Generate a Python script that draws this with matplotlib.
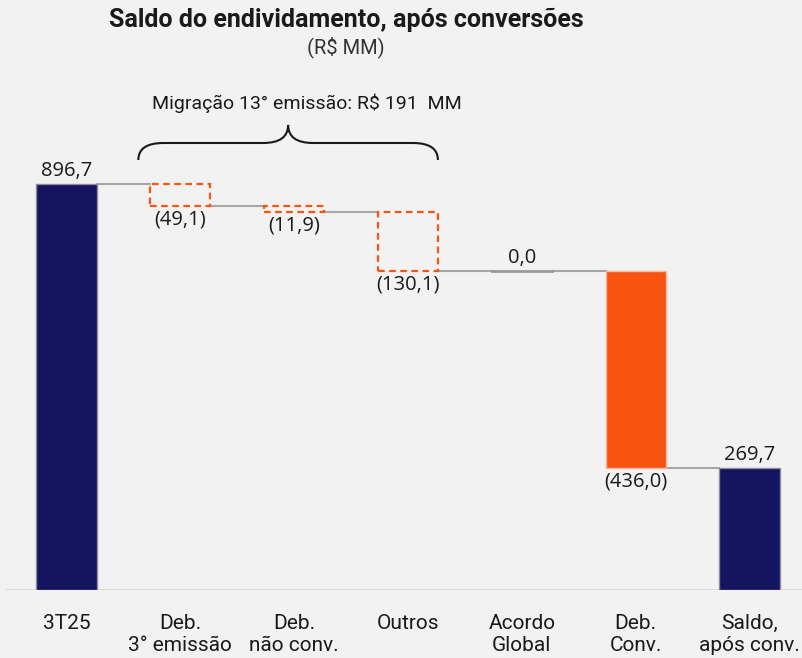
import matplotlib
matplotlib.use("Agg")
import matplotlib.pyplot as plt
from matplotlib.path import Path
from matplotlib.patches import PathPatch, Rectangle

categories = ["3T25", "Deb.\n3° emissão", "Deb.\nnão conv.", "Outros",
              "Acordo\nGlobal", "Deb.\nConv.", "Saldo,\napós conv."]
values = [896.7, -49.1, -11.9, -130.1, 0.0, -436.0, 269.7]
value_labels = ["896,7", "(49,1)", "(11,9)", "(130,1)", "0,0", "(436,0)", "269,7"]
kinds = ["total", "dashed", "dashed", "dashed", "flat", "solid", "total"]

NAVY = "#141460"
ORANGE = "#f95312"
BG = "#f2f2f2"
GRAY = "#a6a6a6"

fig = plt.figure(figsize=(8.02, 6.58), dpi=100, facecolor=BG)
ax = fig.add_axes([6/802, 1 - 590/658, 1 - 6/802, (590 - 60)/658])
ax.set_facecolor(BG)
ax.set_xlim(-0.53, 6.46)
ax.set_ylim(0, 1170.5)

W = 0.53
running = 0.0
tops = []
for i, (v, k) in enumerate(zip(values, kinds)):
    if k == "total":
        bottom, top = 0.0, v
        ax.bar(i, v, width=W, color=NAVY, edgecolor="#8c8c9c", linewidth=1, zorder=3)
        running = v
        end = v
    else:
        start = running
        end = running + v
        bottom, top = min(start, end), max(start, end)
        if k == "dashed":
            ax.add_patch(Rectangle((i - W/2, bottom), W, top - bottom, fill=False,
                                   edgecolor=ORANGE, linestyle=(0, (3, 2)),
                                   linewidth=1.6, zorder=3))
        elif k == "solid":
            ax.bar(i, top - bottom, bottom=bottom, width=W, color=ORANGE,
                   edgecolor="#f9b89c", linewidth=1, zorder=3)
        else:
            ax.plot([i - W/2, i + W/2], [end, end], color="#9a9a9a", lw=2, zorder=3)
        running = end
    tops.append((bottom, top, end))

# connectors
for i in range(len(values) - 1):
    level = tops[i][2]
    ax.plot([i + W/2, i + 1 - W/2], [level, level], color=GRAY, lw=1.5, zorder=2)

# value labels
fs = 14.5
for i, (lab, k) in enumerate(zip(value_labels, kinds)):
    bottom, top, end = tops[i]
    if k in ("total", "flat"):
        ax.text(i, top + 6, lab, ha="center", va="bottom", fontsize=fs,
                family="Open Sans", color="#1a1a1a")
    else:
        ax.text(i, bottom - 8, lab, ha="center", va="top", fontsize=fs,
                family="Open Sans", color="#1a1a1a")

# baseline
ax.axhline(0, color="#d9d9d9", lw=2, zorder=1)

ax.set_xticks(range(len(categories)))
ax.set_xticklabels(categories, fontsize=15, family="Roboto", color="#1a1a1a",
                   linespacing=1.25)
ax.tick_params(axis="x", length=0, pad=17)
ax.set_yticks([])
for s in ax.spines.values():
    s.set_visible(False)

# brace
x0, x1 = 0.632, 3.263
xm = (x0 + x1) / 2
yb, yh, yp = 949.6, 987.2, 1027.0
r = 0.22
verts = [(x0, yb), (x0, yh), (x0 + r, yh),
         (xm - r, yh), (xm, yh), (xm, yp),
         (xm, yh), (xm + r, yh),
         (x1 - r, yh), (x1, yh), (x1, yb)]
codes = [Path.MOVETO, Path.CURVE3, Path.CURVE3,
         Path.LINETO, Path.CURVE3, Path.CURVE3,
         Path.CURVE3, Path.CURVE3,
         Path.LINETO, Path.CURVE3, Path.CURVE3]
ax.add_patch(PathPatch(Path(verts, codes), fill=False, edgecolor="#1a1a1a",
                       lw=1.5, clip_on=False, zorder=4))

fig.text(307/802, 1 - 103/658, "Migração 13° emissão: R$ 191  MM", ha="center",
         va="center", fontsize=14, family="Roboto", color="#1a1a1a")
fig.text(346/802, 1 - 20/658, "Saldo do endividamento, após conversões", ha="center",
         va="center", fontsize=18, family="Roboto", weight="bold", color="#1a1a1a")
fig.text(346/802, 1 - 47/658, "(R$ MM)", ha="center", va="center", fontsize=14.5,
         family="Roboto", color="#333333")

fig.savefig("out.png", dpi=100, facecolor=BG)
